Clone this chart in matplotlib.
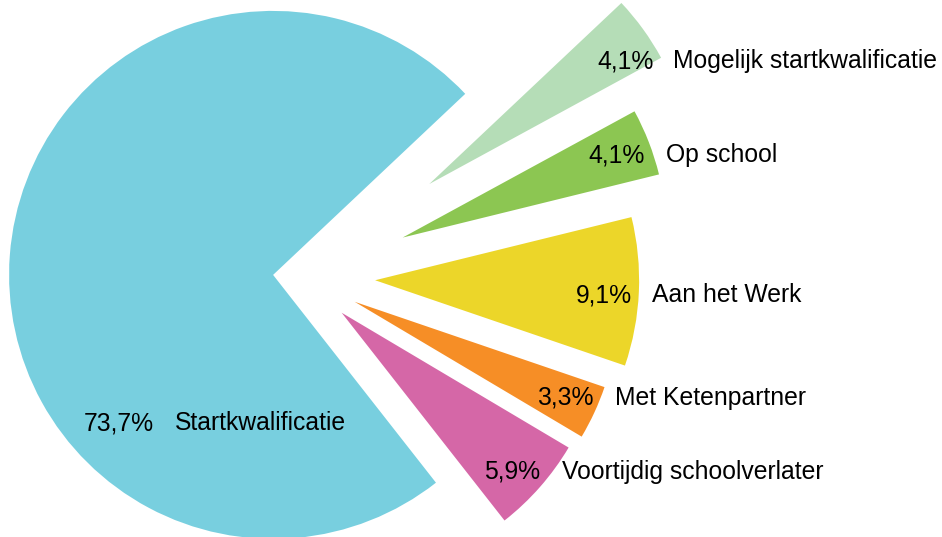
import matplotlib.pyplot as plt

labels = ['Mogelijk startkwalificatie', 'Op school', 'Aan het Werk',
          'Met Ketenpartner', 'Voortijdig schoolverlater', 'Startkwalificatie']
values = [4.1, 4.1, 9.1, 3.3, 5.9, 73.7]
colors = ['#B5DDB7', '#8CC652', '#ECD629', '#F68E26', '#D567A7', '#78CFDF']
explode = [0.600, 0.413, 0.281, 0.224, 0.205, 0.106]

# text anchors in pixels of the 942x537 picture: (pct right edge, label left edge, y)
text_pos = [(654, 673, 61), (645, 666, 155), (632, 652, 295),
            (594, 615, 398), (540, 562, 472), (154, 175, 423)]

W, H = 942, 537
cx, cy, R = 301, 277, 264  # pie centre and radius in pixels


def px(x, y):
    return (x - cx) / R, (cy - y) / R


plt.rcParams['font.family'] = ['Liberation Sans', 'DejaVu Sans']
fig = plt.figure(figsize=(W / 100, H / 100), dpi=100)
ax = fig.add_axes([0, 0, 1, 1])

ax.pie(values, colors=colors, explode=explode, startangle=43.3,
       counterclock=False, radius=1, wedgeprops=dict(linewidth=0))

for v, lab, (xp, xl, y) in zip(values, labels, text_pos):
    pct = ('%.1f%%' % v).replace('.', ',')
    ax.text(*px(xp, y), pct, ha='right', va='center', fontsize=17.8)
    ax.text(*px(xl, y), lab, ha='left', va='center', fontsize=17.8)

ax.set_xlim(-cx / R, (W - cx) / R)
ax.set_ylim(-(H - cy) / R, cy / R)
ax.set_aspect('equal')
ax.axis('off')

fig.savefig('out.png', dpi=100)
